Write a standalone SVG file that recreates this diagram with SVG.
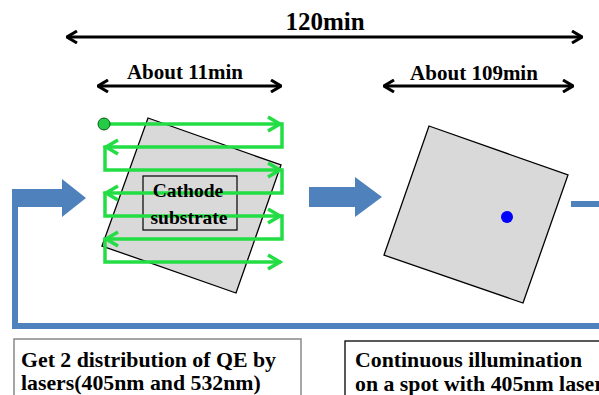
<svg xmlns="http://www.w3.org/2000/svg" width="599" height="395" viewBox="0 0 599 395">
<defs>
<style>
.t{font-family:"Liberation Serif","Times New Roman",serif;font-weight:bold;fill:#000}
.dim{stroke:#000;stroke-width:3;fill:none}
.blue{fill:#4f81bd}
.sq{fill:#d9d9d9;stroke:#000;stroke-width:1.3}
.g{fill:none;stroke:#22dd44;stroke-width:3.5;stroke-linejoin:miter}
</style>
<marker id="ah" viewBox="0 0 12 14" refX="11" refY="7" markerWidth="12" markerHeight="14" markerUnits="userSpaceOnUse" orient="auto-start-reverse">
<path d="M1,1 L11,7 L1,13" fill="none" stroke="#000" stroke-width="3"/>
</marker>
</defs>
<rect width="599" height="395" fill="#fff"/>
<g id="connectors">
<line class="dim" x1="67" y1="37" x2="582" y2="37" marker-start="url(#ah)" marker-end="url(#ah)"/>
<line class="dim" x1="98" y1="86" x2="281" y2="86" marker-start="url(#ah)" marker-end="url(#ah)"/>
<line class="dim" x1="384" y1="86" x2="573" y2="86" marker-start="url(#ah)" marker-end="url(#ah)"/>
<path d="M15,198 V326 H599" fill="none" stroke="#4f81bd" stroke-width="6"/>
<path class="blue" d="M12,189 H62 V179 L86,198 L62,217 V207 H12 Z"/>
<path class="blue" d="M309,187 H355 V177 L382,197 L355,217 V207 H309 Z"/>
<rect class="blue" x="571" y="201" width="28" height="6"/>
</g>
<g id="labels">
<text class="t" x="325" y="30" font-size="25" text-anchor="middle">120min</text>
<text class="t" x="185" y="79" font-size="21" text-anchor="middle">About 11min</text>
<text class="t" x="474" y="80" font-size="21" text-anchor="middle">About 109min</text>
</g>
<g id="substrate1">
<polygon class="sq" points="148,118 281,165 236,293 102,246"/>
<rect x="143" y="176" width="94" height="54" fill="none" stroke="#000" stroke-width="1.2"/>
</g>
<g id="scan">
<path class="g" d="M104,124 H282 V147 H105 V170 H282 V193 H105 V216 H282 V239 H105 V262 H281"/>
<path class="g" d="M268,117 L280,124 L268,131 M268,163 L280,170 L268,177 M268,209 L280,216 L268,223 M268,255 L280,262 L268,269 M118,140 L106,147 L118,154 M118,186 L106,193 L118,200 M118,232 L106,239 L118,246"/>
<circle cx="104" cy="124" r="6" fill="#22cc44" stroke="#0a5a1a" stroke-width="1"/>
</g>
<g id="substrate1-label">
<text class="t" x="188" y="197" font-size="19.5" text-anchor="middle">Cathode</text>
<text class="t" x="189" y="224" font-size="19.5" text-anchor="middle">substrate</text>
</g>
<g id="substrate2">
<polygon class="sq" points="429,126 568,175 523,303 384,255"/>
<circle cx="507" cy="217" r="6" fill="#0000ff"/>
</g>
<g id="box1">
<rect x="14" y="339" width="287" height="70" fill="#fff" stroke="#888" stroke-width="1.5"/>
<text class="t" x="21" y="367" font-size="21.8">Get 2 distribution of QE by</text>
<text class="t" x="21" y="390" font-size="21.8">lasers(405nm and 532nm)</text>
</g>
<g id="box2">
<rect x="345" y="341" width="270" height="70" fill="#fff" stroke="#000" stroke-width="1.3"/>
<text class="t" x="355" y="367" font-size="21.8">Continuous illumination</text>
<text class="t" x="355" y="391" font-size="21.8">on a spot with 405nm laser</text>
</g>
</svg>
